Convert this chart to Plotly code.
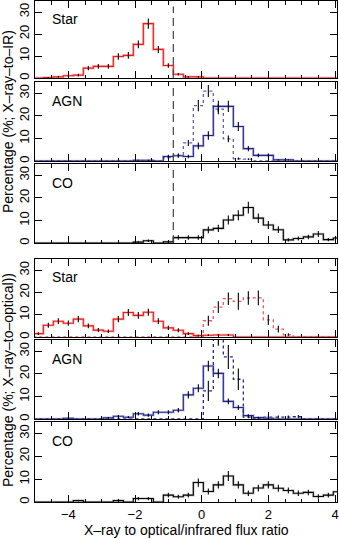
import plotly.graph_objects as go

# ---------------- data ----------------
centers = [-4.9, -4.6, -4.3, -4.0, -3.7, -3.4, -3.1, -2.8, -2.5, -2.2, -1.9, -1.6,
           -1.3, -1.0, -0.7, -0.4, -0.1, 0.2, 0.5, 0.8, 1.1, 1.4, 1.7, 2.0, 2.3,
           2.6, 2.9, 3.2, 3.5, 3.8, 4.1]
bin_width = 0.3

star_ir = [0, 0.2, 0.5, 1.0, 1.3, 4.5, 5.3, 5.3, 9.8, 10.3, 15.3, 24.7, 13.0, 5.7, 1.7, 0.5,
           0.5, 0, 0, 0, 0, 0, 0, 0, 0, 0, 0, 0, 0, 0, 0]
star_ir_err = [0, 0.3, 0.4, 0.5, 0.6, 1.0, 1.1, 1.1, 1.5, 1.5, 1.8, 2.3, 1.6, 1.0, 0.6, 0.4,
               0.4, 0, 0, 0, 0, 0, 0, 0, 0, 0, 0, 0, 0, 0, 0]

agn_ir = [0, 0, 0, 0, 0, 0, 0, 0, 0, 0, 0.3, 0.3, 0, 2.0, 2.3, 2.0, 6.7, 11.3, 24.2, 24.2,
          15.3, 5.5, 2.5, 2.5, 0.5, 0.5, 0, 0, 0, 0, 0]
agn_ir_err = [0, 0, 0, 0, 0, 0, 0, 0, 0, 0, 0.2, 0.2, 0, 0.8, 0.9, 0.8, 1.5, 1.9, 2.5, 2.5,
              2.0, 1.2, 0.8, 0.8, 0.3, 0.3, 0, 0, 0, 0, 0]
agn_ir_dot = [0, 0, 0, 0, 0, 0, 0, 0, 0, 0, 0, 0, 0, 1.5, 2.5, 8.0, 24.5, 31.0, 23.0, 9.8,
              1.0, 0.8, 0, 0, 0, 0, 0, 0, 0, 0, 0]
agn_ir_dot_err = [0, 0, 0, 0, 0, 0, 0, 0, 0, 0, 0, 0, 0, 0.6, 0.8, 1.3, 2.5, 2.7, 2.3, 1.5,
                  0.5, 0.4, 0, 0, 0, 0, 0, 0, 0, 0, 0]

co_ir = [0, 0, 0, 0, 0, 0, 0, 0, 0, 0, 0.4, 1.0, 0, 0.5, 2.4, 2.4, 2.4, 5.8, 6.5, 10.2,
         12.3, 15.7, 11.0, 8.0, 5.9, 1.4, 2.0, 2.7, 4.0, 1.5, 2.2]
co_ir_err = [0, 0, 0, 0, 0, 0, 0, 0, 0, 0, 0.4, 0.6, 0, 0.4, 1.0, 1.0, 1.0, 1.5, 1.6, 2.0,
             2.2, 2.6, 2.1, 1.8, 1.5, 0.7, 0.9, 1.0, 1.3, 0.7, 0.9]

star_opt = [1.5, 5.3, 7.1, 6.2, 8.0, 5.0, 3.1, 2.6, 8.0, 11.0, 9.7, 11.1, 7.1, 4.1, 3.0, 1.5,
            0.6, 0.8, 0.9, 0.9, 0, 0, 0, 0, 0, 0, 0, 0, 0, 0, 0]
star_opt_err = [0.6, 1.1, 1.3, 1.2, 1.4, 1.1, 0.9, 0.8, 1.4, 1.6, 1.5, 1.6, 1.3, 1.0, 0.9, 0.6,
                0.4, 0.4, 0.5, 0.5, 0, 0, 0, 0, 0, 0, 0, 0, 0, 0, 0]
star_opt_dot = [0, 0, 0, 0, 0, 0, 0, 0, 0, 0, 0, 0, 0, 0, 0, 0, 0, 7.3, 13.4, 17.2, 16.0,
                17.5, 17.6, 7.7, 3.5, 1.0, 0, 0, 0, 0, 0]
star_opt_dot_err = [0, 0, 0, 0, 0, 0, 0, 0, 0, 0, 0, 0, 0, 0, 0, 0, 0, 2.2, 2.6, 2.8, 3.8,
                    3.0, 3.3, 2.3, 1.5, 0.7, 0, 0, 0, 0, 0]

agn_opt = [0, 0, 0, 0.3, 0, 0, 0, 0.5, 1.2, 0.8, 2.3, 1.7, 3.0, 3.0, 3.9, 10.7, 13.6, 23.5,
           20.2, 7.8, 5.1, 1.5, 0.6, 0.3, 0, 0, 0, 0, 0, 0, 0]
agn_opt_err = [0, 0, 0, 0.3, 0, 0, 0, 0.4, 0.6, 0.5, 0.8, 0.7, 0.9, 0.9, 1.0, 1.6, 1.8, 2.3,
               2.1, 1.3, 1.1, 0.6, 0.4, 0.3, 0, 0, 0, 0, 0, 0, 0]
agn_opt_dot = [0, 0, 0, 0, 0, 0, 0, 0, 0, 0, 0, 0, 0, 0, 0, 0, 0, 12.5, 38.0, 27.5, 17.6,
               0.8, 0.3, 0.8, 0.8, 0.8, 1.0, 0, 0, 0, 0]
agn_opt_dot_err = [0, 0, 0, 0, 0, 0, 0, 0, 0, 0, 0, 0, 0, 0, 0, 0, 0, 4.5, 5.5, 5.3, 4.8,
                   0.5, 0.3, 0.8, 0.8, 0.8, 0.8, 0, 0, 0, 0]

co_opt = [0, 0, 0, 0, 0.6, 0, 0, 0, 0.6, 0, 1.5, 1.5, 0, 3.0, 2.3, 3.0, 8.5, 4.6, 7.5, 11.4,
          7.5, 3.8, 6.1, 7.5, 6.0, 5.0, 3.8, 4.2, 2.4, 3.0, 4.5]
co_opt_err = [0, 0, 0, 0, 0.4, 0, 0, 0, 0.4, 0, 0.7, 0.7, 0, 1.0, 0.9, 1.0, 1.8, 1.3, 1.6, 2.2,
              1.6, 1.2, 1.5, 1.6, 1.5, 1.3, 1.2, 1.2, 1.0, 1.0, 1.3]

panel_labels = ["Star", "AGN", "CO", "Star", "AGN", "CO"]
x_tick_vals = [-4, -2, 0, 2, 4]
x_tick_text = ["\u22124", "\u22122", "0", "2", "4"]
y_tick_vals = [0, 10, 20, 30]
cut_x = -0.85
cut_top = 32.5

# ---------------- styling ----------------
RED = "#f01818"
RED_GLOW = "rgba(255,110,110,0.45)"
BLUE = "#26268a"
BLUE_GLOW = "rgba(130,130,210,0.45)"
BLACK = "#000000"
BLACK_GLOW = "rgba(110,110,110,0.35)"
FONT = "Liberation Sans, Arial, sans-serif"

edges = [c - bin_width / 2 for c in centers] + [centers[-1] + bin_width / 2]

fig = go.Figure()


def add_hist(panel, vals, errs, color, glow, dash="solid"):
    xa = "x" if panel == 1 else f"x{panel}"
    ya = "y" if panel == 1 else f"y{panel}"
    yv = list(vals) + [vals[-1]]
    if dash == "solid":
        fig.add_trace(go.Scatter(x=edges, y=yv, mode="lines", line_shape="hv",
                                 line=dict(color=glow, width=2.6), xaxis=xa, yaxis=ya,
                                 hoverinfo="skip", showlegend=False))
        fig.add_trace(go.Scatter(x=edges, y=yv, mode="lines", line_shape="hv",
                                 line=dict(color=color, width=1.1), xaxis=xa, yaxis=ya,
                                 showlegend=False))
    else:
        fig.add_trace(go.Scatter(x=edges, y=yv, mode="lines", line_shape="hv",
                                 line=dict(color=color, width=1.3, dash="dot"),
                                 xaxis=xa, yaxis=ya, showlegend=False))
    ex = [c for c, e in zip(centers, errs) if e > 0]
    ey = [v for v, e in zip(vals, errs) if e > 0]
    ee = [e for e in errs if e > 0]
    fig.add_trace(go.Scatter(x=ex, y=ey, mode="markers", marker=dict(size=1, color=BLACK, opacity=0),
                             error_y=dict(type="data", array=ee, visible=True, color=BLACK,
                                          thickness=1.1, width=0),
                             xaxis=xa, yaxis=ya, showlegend=False))


add_hist(2, agn_ir_dot, agn_ir_dot_err, "rgba(80,80,170,0.9)", None, dash="dot")
add_hist(1, star_ir, star_ir_err, RED, RED_GLOW)
add_hist(2, agn_ir, agn_ir_err, BLUE, BLUE_GLOW)
add_hist(3, co_ir, co_ir_err, BLACK, BLACK_GLOW)
add_hist(4, star_opt_dot, star_opt_dot_err, "rgba(240,60,60,0.85)", None, dash="dot")
add_hist(4, star_opt, star_opt_err, RED, RED_GLOW)
add_hist(5, agn_opt_dot, agn_opt_dot_err, BLUE, None, dash="dot")
add_hist(5, agn_opt, agn_opt_err, BLUE, BLUE_GLOW)
add_hist(6, co_opt, co_opt_err, BLACK, BLACK_GLOW)

# dashed cut line in the X-ray-to-IR panels
for p in (1, 2, 3):
    xa = "x" if p == 1 else f"x{p}"
    ya = "y" if p == 1 else f"y{p}"
    fig.add_trace(go.Scatter(x=[cut_x, cut_x], y=[0, cut_top], mode="lines",
                             line=dict(color="#444444", width=1.2, dash="8px,5px"),
                             xaxis=xa, yaxis=ya, showlegend=False))

# ---------------- layout ----------------
plot_top, plot_bot = 1, 502
H = plot_bot - plot_top
W = 302
panel_px = [(1, 78), (82, 161), (164, 243), (259, 337), (340, 419), (422, 502)]

layout = dict(width=339, height=539, margin=dict(l=35, r=2, t=1, b=37, autoexpand=False),
              paper_bgcolor="white", plot_bgcolor="white", showlegend=False,
              font=dict(family=FONT, size=12, color="black"))
annotations = []
for i, (top, bot) in enumerate(panel_px, start=1):
    d0 = (plot_bot - bot) / H
    d1 = (plot_bot - top) / H
    xk = "xaxis" if i == 1 else f"xaxis{i}"
    yk = "yaxis" if i == 1 else f"yaxis{i}"
    anchor_y = "y" if i == 1 else f"y{i}"
    anchor_x = "x" if i == 1 else f"x{i}"
    layout[xk] = dict(domain=[0, 1], anchor=anchor_y, range=[-5, 4.06], autorange=False,
                      automargin=False,
                      tickvals=x_tick_vals, ticktext=x_tick_text,
                      showticklabels=(i == 6), ticks="inside", ticklen=7,
                      tickcolor="black", tickwidth=1,
                      minor=dict(dtick=0.5, tick0=0, ticks="inside", ticklen=3.5,
                                 tickcolor="black", tickwidth=1),
                      showline=True, linecolor="black", linewidth=1, mirror="allticks",
                      showgrid=False, zeroline=False,
                      tickfont=dict(family=FONT, size=13))
    layout[yk] = dict(domain=[d0, d1], anchor=anchor_x, range=[0, 35], autorange=False,
                      automargin=False,
                      tickvals=y_tick_vals, tickangle=-90, ticks="inside", ticklen=7,
                      tickcolor="black", tickwidth=1,
                      showline=True, linecolor="black", linewidth=1, mirror="allticks",
                      showgrid=False, zeroline=False,
                      tickfont=dict(family=FONT, size=13))
    annotations.append(dict(text=panel_labels[i - 1], xref=anchor_x, yref=anchor_y,
                            x=-4.55, y=26.8, xanchor="left", yanchor="middle",
                            showarrow=False, font=dict(family=FONT, size=14)))

annotations.append(dict(text="Percentage (%; X\u2013ray\u2013to\u2013IR)", xref="paper", yref="paper",
                        x=-27 / W, y=(plot_bot - 122) / H, textangle=-90,
                        xanchor="center", yanchor="middle", showarrow=False,
                        font=dict(family=FONT, size=14)))
annotations.append(dict(text="Percentage (%; X\u2013ray\u2013to\u2013optical))", xref="paper", yref="paper",
                        x=-27 / W, y=(plot_bot - 380) / H, textangle=-90,
                        xanchor="center", yanchor="middle", showarrow=False,
                        font=dict(family=FONT, size=14)))
annotations.append(dict(text="X\u2013ray to optical/infrared flux ratio", xref="paper", yref="paper",
                        x=0.5, y=-28 / H, xanchor="center", yanchor="middle", showarrow=False,
                        font=dict(family=FONT, size=14)))
layout["annotations"] = annotations
fig.update_layout(**layout)

fig.write_html("out.html", config={"displayModeBar": False},
               post_script="document.body.style.margin='0';document.body.style.padding='0';")
